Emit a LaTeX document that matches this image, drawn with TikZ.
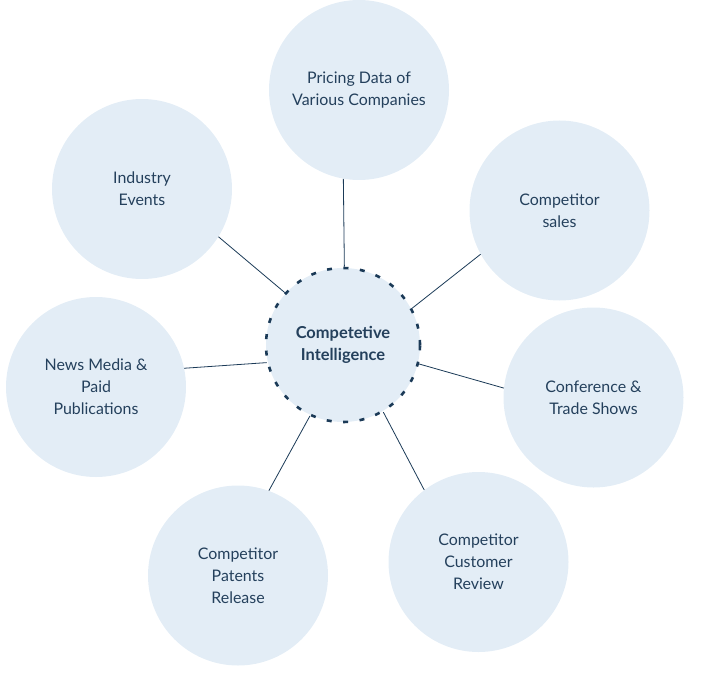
\documentclass[tikz,border=0pt]{standalone}
\usepackage{fontspec}
\setmainfont{Lato}
\definecolor{cfill}{HTML}{E3EDF6}
\definecolor{navy}{HTML}{1B3A57}
\definecolor{tcol}{HTML}{24405C}
\begin{document}
\begin{tikzpicture}[x=1bp,y=-1bp,
  outer/.style={circle,fill=cfill,minimum size=180bp,inner sep=0pt,align=center,
    text=tcol,font=\fontsize{16}{22}\selectfont},
  hub/.style={circle,fill=cfill,draw=navy,line width=2.6bp,dash pattern=on 5bp off 11.5bp,
    minimum size=154bp,inner sep=0pt,align=center,text=tcol,
    font=\bfseries\fontsize{16.5}{22}\selectfont},
  link/.style={draw=navy,line width=0.8bp}]
\useasboundingbox (0,0) rectangle (706,698);
\node[outer] (pricing) at (359,90) {Pricing Data of\\Various Companies};
\node[outer] (industry) at (142,189) {Industry\\Events};
\node[outer] (sales) at (559.5,210.5) {Competitor\\sales};
\node[outer] (news) at (96,387) {News Media \&\\Paid\\Publications};
\node[outer] (conf) at (593.5,397.5) {Conference \&\\Trade Shows};
\node[outer] (review) at (478.5,562) {Competitor\\Customer\\Review};
\node[outer] (patents) at (238,575.5) {Competitor\\Patents\\Release};
\node[hub] (hub) at (343,345) {Competetive\\Intelligence};
\path[link] (pricing.260) -- (hub.89);
\path[link] (industry.-32) -- (hub.138);
\path[link] (sales.209) -- (hub.28);
\path[link] (news.12.8) -- (hub.193);
\path[link] (conf.174) -- (hub.346.5);
\path[link] (review.127) -- (hub.301);
\path[link] (patents.70) -- (hub.245.6);
\end{tikzpicture}
\end{document}
